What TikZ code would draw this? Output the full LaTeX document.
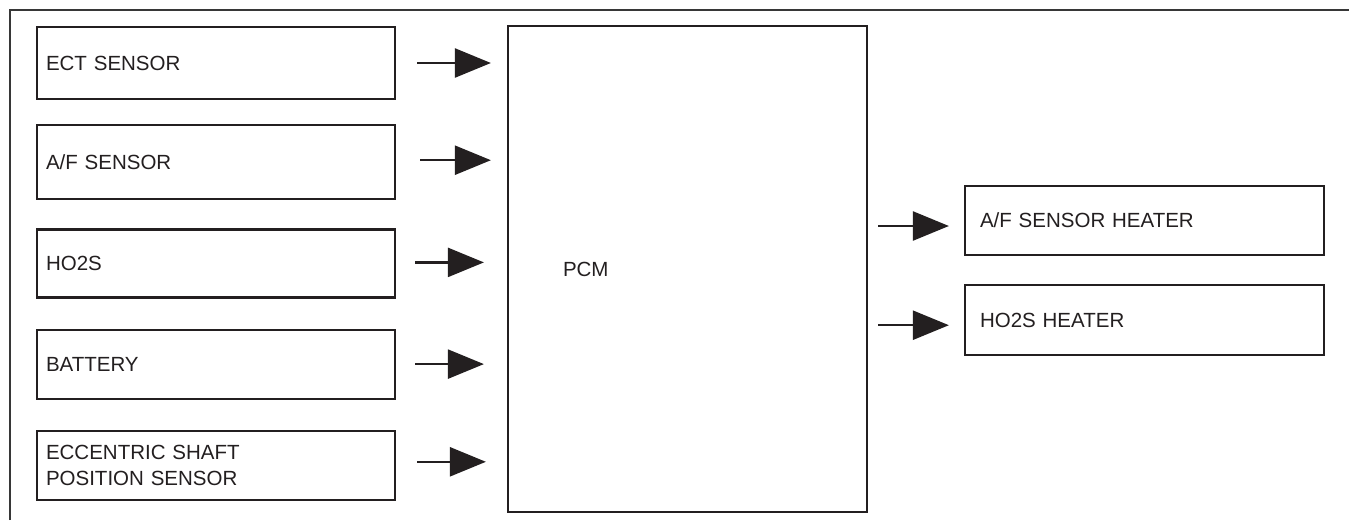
\documentclass[tikz,border=0pt]{standalone}
\usepackage{fontspec}
\setmainfont{Liberation Sans}
\usetikzlibrary{
    arrows.meta,
    positioning
}
\definecolor{Ink}{RGB}{35, 31, 32}
\definecolor{Rule}{RGB}{55, 55, 55}
\tikzset{
    sbox/.style={
        rectangle, draw=Ink, line width=2.2pt, fill=white, text=Ink,
        text width=340pt, inner xsep=9pt, inner ysep=0pt, align=left,
        font=\fontsize{20.5}{26}\selectfont
    },
    hbox/.style={
        sbox, text width=329pt, inner xsep=15pt
    },
    pcmbox/.style={
        sbox, text width=249pt, inner xsep=55pt
    },
    sarr/.style={-{Triangle[length=36pt, width=29pt]}, line width=2.4pt, Ink},
    frameline/.style={line width=1.8pt, Rule},
}

\begin{document}
\begin{tikzpicture}[x=1pt, y=-1pt]

    \useasboundingbox (0,0) rectangle (1349,520);

    % ── frame ─────────────────────────────────────────
    \draw [frameline] (10,520) -- (10,10) -- (1349,10);

    % ── input boxes (left column) ─────────────────────
    \node [sbox, minimum height=72pt]
        (ect) at (216,63) {ECT SENSOR};

    \node [sbox, below=24pt of ect, minimum height=74pt]
        (afs) {A/F SENSOR};

    \node [sbox, below=28pt of afs, minimum height=68pt]
        (hos) {HO2S};

    \node [sbox, below=30pt of hos, minimum height=69pt]
        (bat) {BATTERY};

    \node [sbox, below=30pt of bat, minimum height=69pt]
        (esp) {ECCENTRIC SHAFT\\POSITION SENSOR};

    % ── control module ────────────────────────────────
    \node [pcmbox, minimum height=486pt]
        (pcm) at (687.5,269) {PCM};

    % ── output boxes (right column) ───────────────────
    \node [hbox, minimum height=69pt]
        (ahtr) at (1144.5,220.5) {A/F SENSOR HEATER};

    \node [hbox, below=28pt of ahtr, minimum height=70pt]
        (hhtr) {HO2S HEATER};

    % ── arrows ────────────────────────────────────────
    \coordinate (ect in) at (ect.east);
    \coordinate (afs in) at ([yshift=2pt]afs.east);
    \coordinate (hos in) at ([yshift=1pt]hos.east);
    \coordinate (bat in) at (bat.east);
    \coordinate (esp in) at ([yshift=3.5pt]esp.east);
    \coordinate (ahtr in) at ([yshift=-5.5pt]ahtr.west);
    \coordinate (hhtr in) at ([yshift=-5pt]hhtr.west);

    \draw [sarr, shorten <=21pt, shorten >=16pt] (ect in) -- (ect in -| pcm.west);
    \draw [sarr, shorten <=24pt, shorten >=16pt] (afs in) -- (afs in -| pcm.west);
    \draw [sarr, shorten <=19pt, shorten >=23pt] (hos in) -- (hos in -| pcm.west);
    \draw [sarr, shorten <=19pt, shorten >=23pt] (bat in) -- (bat in -| pcm.west);
    \draw [sarr, shorten <=21pt, shorten >=21pt] (esp in) -- (esp in -| pcm.west);

    \draw [sarr, shorten <=10pt, shorten >=15pt] (ahtr in -| pcm.east) -- (ahtr in);
    \draw [sarr, shorten <=10pt, shorten >=15pt] (hhtr in -| pcm.east) -- (hhtr in);

\end{tikzpicture}
\end{document}
